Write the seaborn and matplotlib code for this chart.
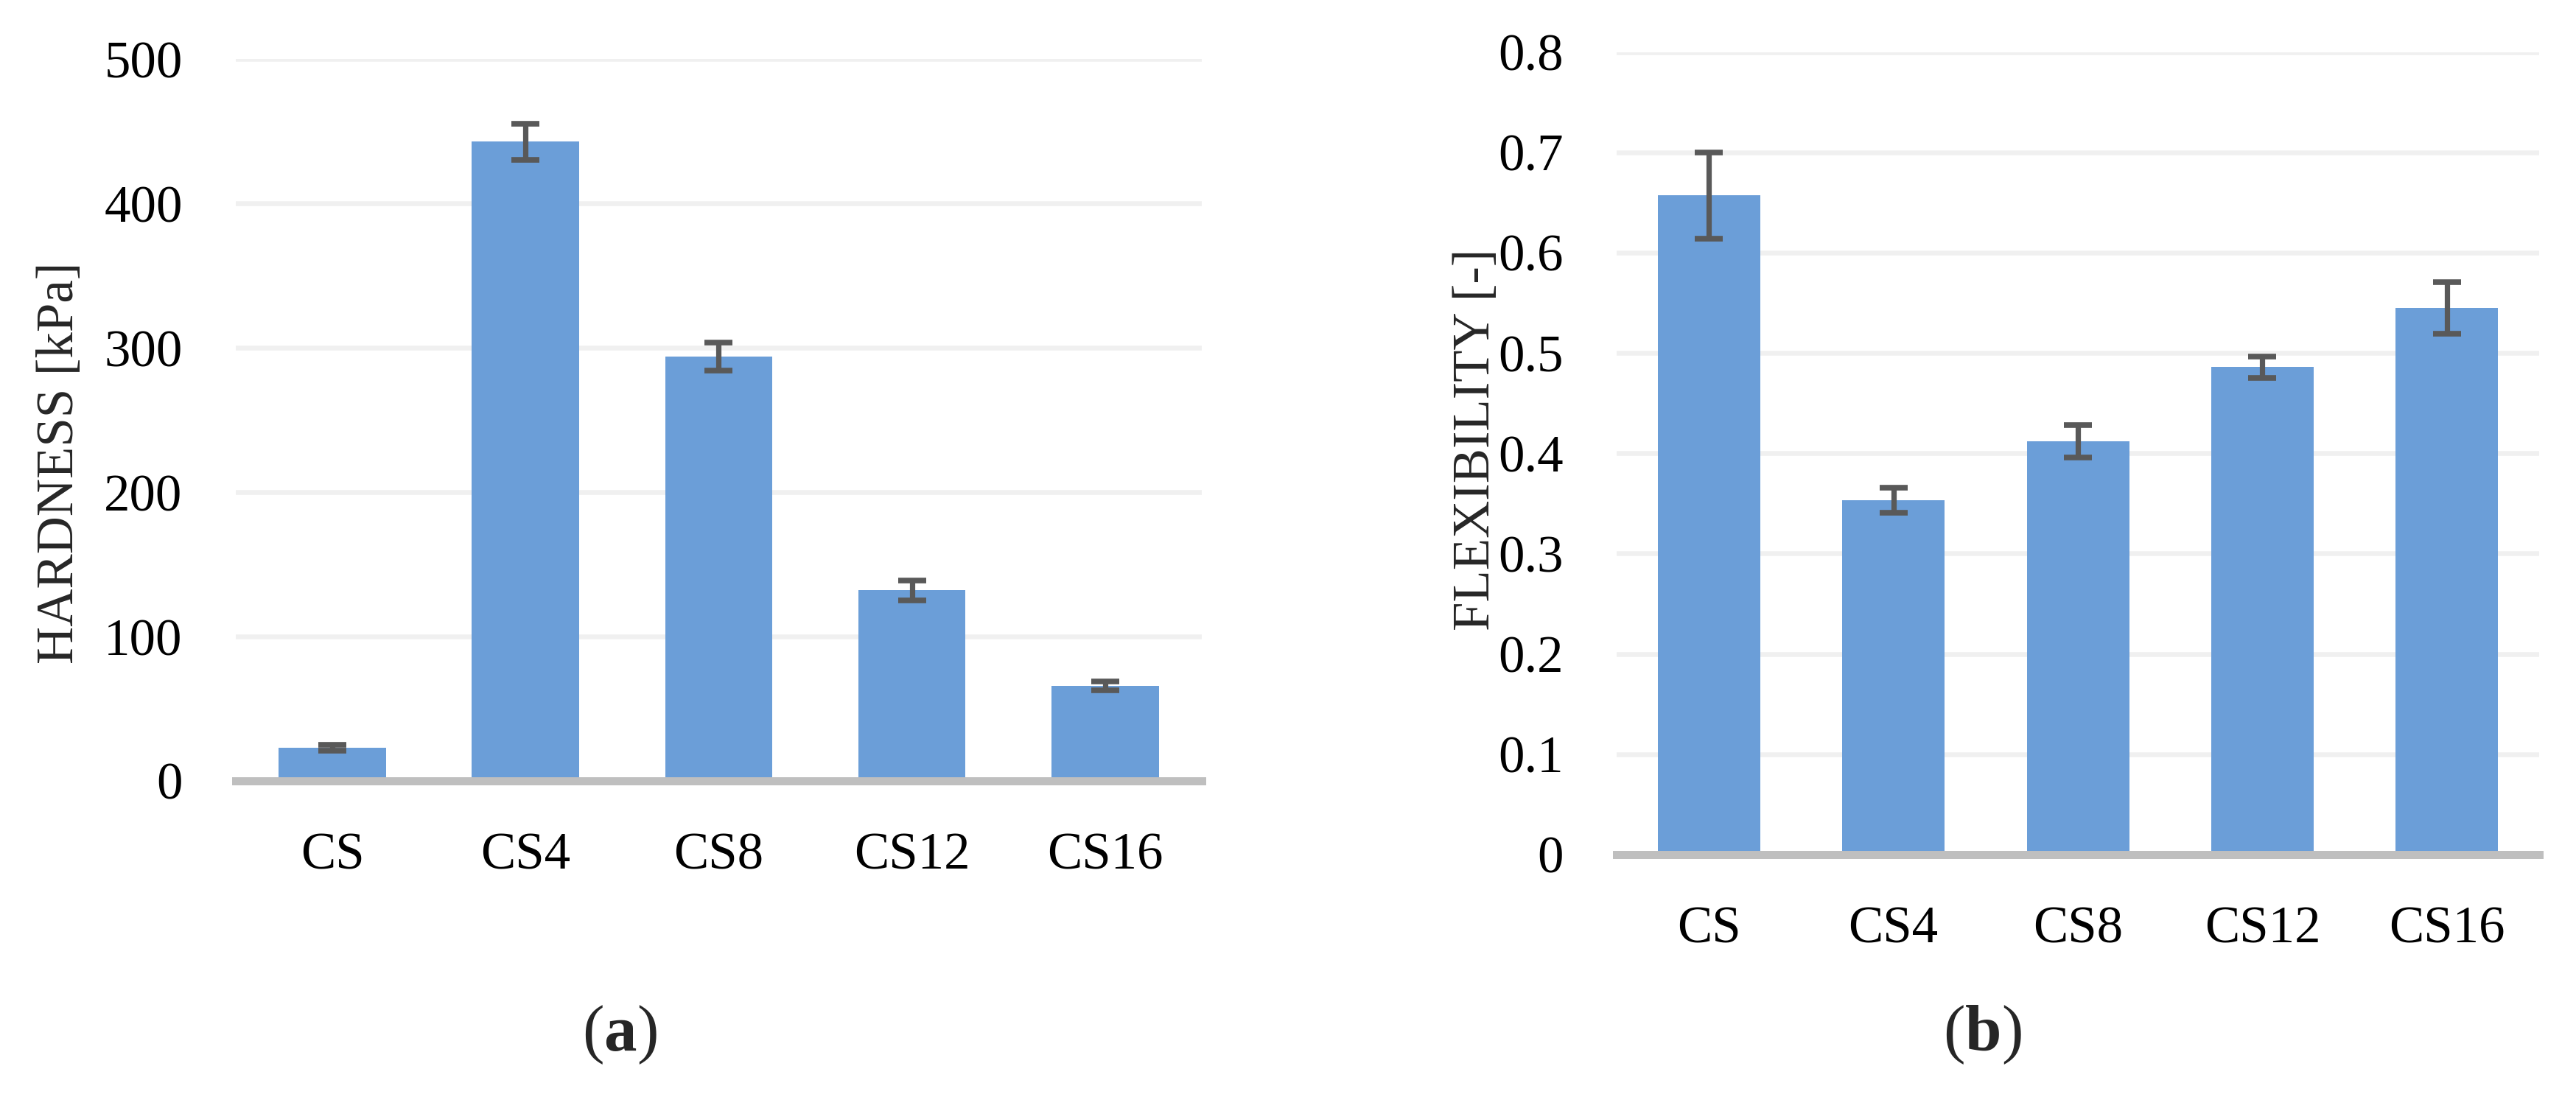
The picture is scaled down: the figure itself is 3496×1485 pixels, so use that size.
import matplotlib
matplotlib.use("Agg")
import matplotlib.pyplot as plt
import seaborn as sns
import pandas as pd
import numpy as np

# ---- data ----
categories = ["CS", "CS4", "CS8", "CS12", "CS16"]
hardness = [23, 443, 294, 132, 66]
hardness_err = [2, 12.5, 9.7, 7, 3]
flexibility = [0.657, 0.353, 0.412, 0.486, 0.545]
flexibility_err = [0.043, 0.0125, 0.016, 0.0105, 0.0255]
hardness_ticks = [0, 100, 200, 300, 400, 500]
hardness_ticklabels = ["0", "100", "200", "300", "400", "500"]
flex_ticks = [0, 0.1, 0.2, 0.3, 0.4, 0.5, 0.6, 0.7, 0.8]
flex_ticklabels = ["0", "0.1", "0.2", "0.3", "0.4", "0.5", "0.6", "0.7", "0.8"]
ylabel_a = "HARDNESS [kPa]"
ylabel_b = "FLEXIBILITY [-]"

sns.set_theme(style="white")
plt.rcParams["font.family"] = ["Liberation Serif", "DejaVu Serif"]
plt.rcParams["mathtext.fontset"] = "custom"
plt.rcParams["mathtext.rm"] = "Liberation Serif"
plt.rcParams["mathtext.bf"] = "Liberation Serif:bold"

BAR = "#6B9ED8"
ERR = "#595959"
GRID = "#F0F0F0"
AXIS = "#BFBFBF"
FS = 51

fig = plt.figure(figsize=(34.96, 14.85), dpi=100)
ax1 = fig.add_axes([0.0915, 0.2862, 0.375, 0.6596])
ax2 = fig.add_axes([0.6276, 0.2189, 0.3581, 0.7335])

df1 = pd.DataFrame({"cat": categories, "val": hardness})
df2 = pd.DataFrame({"cat": categories, "val": flexibility})


def style(ax, df, err, ticks, ticklabels, ymax):
    sns.barplot(data=df, x="cat", y="val", color=BAR, width=0.555,
                saturation=1, linewidth=0, errorbar=None, ax=ax, zorder=2)
    ax.errorbar(np.arange(len(df)), df["val"], yerr=err, fmt="none",
                ecolor=ERR, elinewidth=5.2, capsize=14, capthick=5.5, zorder=3)
    ax.set_xlim(-0.5, len(df) - 0.5)
    ax.set_ylim(0, ymax)
    ax.set_yticks(ticks)
    ax.set_yticklabels(ticklabels)
    ax.set_xlabel("")
    ax.set_ylabel("")
    ax.yaxis.grid(True, color=GRID, linewidth=4.7, zorder=0)
    ax.set_axisbelow(True)
    for s in ["left", "right", "top"]:
        ax.spines[s].set_visible(False)
    ax.spines["bottom"].set_color(AXIS)
    ax.spines["bottom"].set_linewidth(7.9)
    ax.spines["bottom"].set_zorder(4)
    ax.tick_params(axis="both", length=0, labelsize=FS, colors="black")
    ax.tick_params(axis="y", pad=52)
    ax.tick_params(axis="x", pad=50)


style(ax1, df1, hardness_err, hardness_ticks, hardness_ticklabels, 500)
style(ax2, df2, flexibility_err, flex_ticks, flex_ticklabels, 0.8)

fig.text(0.0233, 0.577, ylabel_a, rotation=90, ha="center", va="center", fontsize=FS)
fig.text(0.573, 0.598, ylabel_b, rotation=90, ha="center", va="center", fontsize=FS)

fig.text(0.2406, 0.054, r"($\mathbf{a}$)", ha="center", va="center", fontsize=64)
fig.text(0.7695, 0.054, r"($\mathbf{b}$)", ha="center", va="center", fontsize=64)

fig.savefig("out.png", dpi=100, facecolor="white")
